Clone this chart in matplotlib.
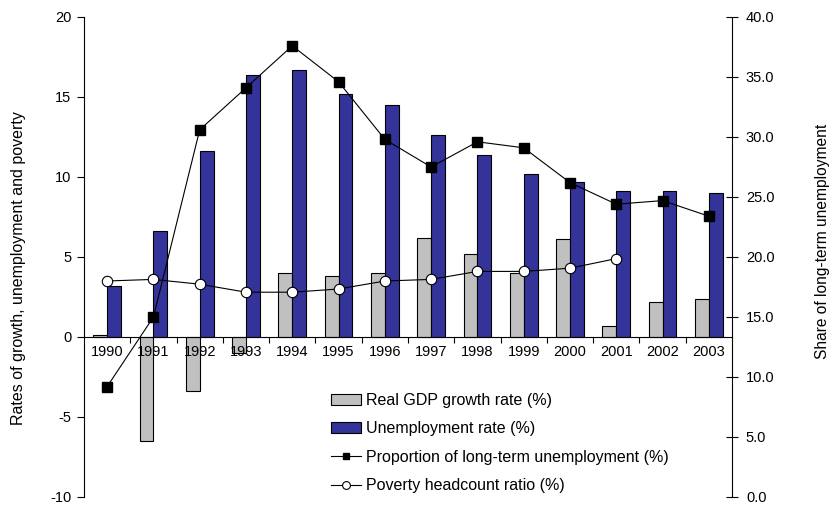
import numpy as np
import matplotlib
matplotlib.use("Agg")
import matplotlib.pyplot as plt
from matplotlib.ticker import FormatStrFormatter

plt.rcParams['font.family'] = ['Liberation Sans', 'DejaVu Sans']
plt.rcParams['font.size'] = 10.5
plt.rcParams['axes.unicode_minus'] = False

years = ['1990', '1991', '1992', '1993', '1994', '1995', '1996',
         '1997', '1998', '1999', '2000', '2001', '2002', '2003']
gdp_growth = [0.1, -6.5, -3.4, -1.0, 4.0, 3.8, 4.0, 6.2, 5.2, 4.0, 6.1, 0.7, 2.2, 2.4]
unemployment = [3.2, 6.6, 11.6, 16.4, 16.7, 15.2, 14.5, 12.6, 11.4, 10.2, 9.7, 9.1, 9.1, 9.0]
long_term_share = [9.2, 15.0, 30.6, 34.1, 37.6, 34.6, 29.8, 27.5, 29.6, 29.1, 26.2, 24.4, 24.7, 23.4]
poverty = [3.5, 3.6, 3.3, 2.8, 2.8, 3.0, 3.5, 3.6, 4.1, 4.1, 4.3, 4.9]

x = np.arange(len(years))
bw = 0.30

fig = plt.figure(figsize=(8.3, 5.08), dpi=100)
ax = fig.add_axes([84/830, 11/508, 648/830, 480/508])
ax2 = ax.twinx()

b1 = ax.bar(x - bw/2, gdp_growth, bw, color='#C0C0C0', edgecolor='black', linewidth=0.8,
            label='Real GDP growth rate (%)')
b2 = ax.bar(x + bw/2, unemployment, bw, color='#333399', edgecolor='black', linewidth=0.8,
            label='Unemployment rate (%)')
l2, = ax.plot(x[:len(poverty)], poverty, '-o', color='black', lw=0.8, ms=7.5,
              mfc='white', mec='black', mew=0.8, label='Poverty headcount ratio (%)')
l1, = ax2.plot(x, long_term_share, '-s', color='black', lw=0.8, ms=6.5,
               label='Proportion of long-term unemployment (%)')

ax.set_xlim(-0.5, len(years) - 0.5)
ax.set_ylim(-10, 20)
ax2.set_ylim(0, 40)

# left axis
ax.set_yticks(np.arange(-10, 21, 5))
ax.tick_params(axis='y', direction='out', length=5, width=0.8, pad=4)
ax.spines['top'].set_visible(False)
ax.spines['right'].set_visible(False)
ax.spines['left'].set_linewidth(0.8)
ax.spines['bottom'].set_position(('data', 0))
ax.spines['bottom'].set_linewidth(0.8)

# x ticks between categories, labels at centers
ax.set_xticks(x[:-1] + 0.5)
ax.set_xticklabels([])
ax.tick_params(axis='x', which='major', direction='out', length=4, width=0.8)
ax.set_xticks(x, minor=True)
ax.set_xticklabels(years, minor=True)
ax.tick_params(axis='x', which='minor', length=0, pad=6)

# right axis
ax2.set_yticks(np.arange(0, 41, 5))
ax2.yaxis.set_major_formatter(FormatStrFormatter('%.1f'))
ax2.tick_params(axis='y', direction='inout', length=8, width=0.8, pad=6)
for s in ['top', 'left', 'bottom']:
    ax2.spines[s].set_visible(False)
ax2.spines['right'].set_linewidth(0.8)

fig.text(19/830, 1 - 268/508, 'Rates of growth, unemployment and poverty',
         rotation=90, ha='center', va='center', fontsize=11.5)
fig.text(822/830, 1 - 241/508, 'Share of long-term unemployment',
         rotation=90, ha='center', va='center', fontsize=11.2)

ax2.legend([b1, b2, l1, l2],
           ['Real GDP growth rate (%)', 'Unemployment rate (%)',
            'Proportion of long-term unemployment (%)', 'Poverty headcount ratio (%)'],
           loc='upper left', bbox_to_anchor=(331/830, 1 - 393/508),
           bbox_transform=fig.transFigure, frameon=False, borderpad=0,
           borderaxespad=0, handlelength=1.9, handletextpad=0.28,
           labelspacing=0.84, markerscale=0.75, fontsize=11.5)

fig.savefig('out.png', dpi=100)
